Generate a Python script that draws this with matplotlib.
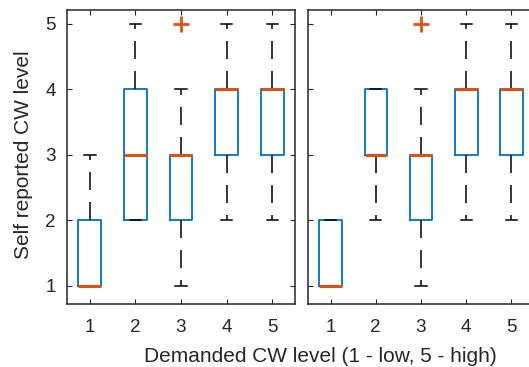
import matplotlib
matplotlib.use("Agg")
import matplotlib.pyplot as plt

plt.rcParams['font.family'] = ['Liberation Sans', 'DejaVu Sans']
plt.rcParams['lines.scale_dashes'] = False

categories = [1, 2, 3, 4, 5]
tick_labels = ['1', '2', '3', '4', '5']

# Left panel stats: (q1, median, q3, whisker low, whisker high, outliers)
left_q1 = [1, 2, 2, 3, 3]
left_med = [1, 3, 3, 4, 4]
left_q3 = [2, 4, 3, 4, 4]
left_wlo = [1, 2, 1, 2, 2]
left_whi = [3, 5, 4, 5, 5]
left_fliers = [[], [], [5], [], []]

# Right panel stats
right_q1 = [1, 3, 2, 3, 3]
right_med = [1, 3, 3, 4, 4]
right_q3 = [2, 4, 3, 4, 4]
right_wlo = [1, 2, 1, 2, 2]
right_whi = [2, 4, 4, 5, 5]
right_fliers = [[], [], [5], [], []]

ylabel = 'Self reported CW level'
xlabel = 'Demanded CW level (1 - low, 5 - high)'

BLUE = (0, 0.447, 0.741)
ORANGE = (0.85, 0.325, 0.098)
DARK = '#262626'

W, H = 529, 367
fig = plt.figure(figsize=(W / 100, H / 100), dpi=100)

def px_axes(x0, x1, y0, y1):
    return fig.add_axes([x0 / W, 1 - y1 / H, (x1 - x0) / W, (y1 - y0) / H])

ax1 = px_axes(67, 295, 10, 304)
ax2 = px_axes(308, 534, 10, 304)

def make_stats(q1, med, q3, wlo, whi, fl):
    return [dict(q1=a, med=b, q3=c, whislo=d, whishi=e, fliers=f)
            for a, b, c, d, e, f in zip(q1, med, q3, wlo, whi, fl)]

for ax, st in [(ax1, make_stats(left_q1, left_med, left_q3, left_wlo, left_whi, left_fliers)),
               (ax2, make_stats(right_q1, right_med, right_q3, right_wlo, right_whi, right_fliers))]:
    ax.bxp(st, positions=categories, widths=0.5, capwidths=0.25,
           showfliers=True,
           boxprops=dict(color=BLUE, linewidth=1.3),
           whiskerprops=dict(color='black', linewidth=1.1, linestyle=(0, (13, 8.6))),
           capprops=dict(color='black', linewidth=1.1),
           medianprops=dict(color=ORANGE, linewidth=2.2, solid_capstyle='butt'),
           flierprops=dict(marker='+', markeredgecolor=ORANGE, markersize=12,
                           markeredgewidth=2.0, linestyle='none'))
    ax.set_xlim(0.5, 5.5)
    ax.set_ylim(0.72, 5.21)
    ax.set_xticks(categories)
    ax.set_xticklabels(tick_labels)
    ax.set_yticks([1, 2, 3, 4, 5])
    ax.tick_params(direction='in', length=3.5, width=0.8, color=DARK,
                   labelcolor=DARK, labelsize=13.6, top=True, right=True)
    ax.tick_params(axis='x', pad=11)
    ax.tick_params(axis='y', pad=8)
    for s in ax.spines.values():
        s.set_color(DARK)
        s.set_linewidth(1.1)

ax2.set_yticklabels([])
fig.text(24 / W, 1 - 155 / H, ylabel, fontsize=15, color=DARK, rotation=90,
         ha='center', va='center')
fig.text(320.5 / W, 1 - 356 / H, xlabel, fontsize=15, color=DARK, ha='center', va='center')

fig.savefig('out.png', dpi=100)
